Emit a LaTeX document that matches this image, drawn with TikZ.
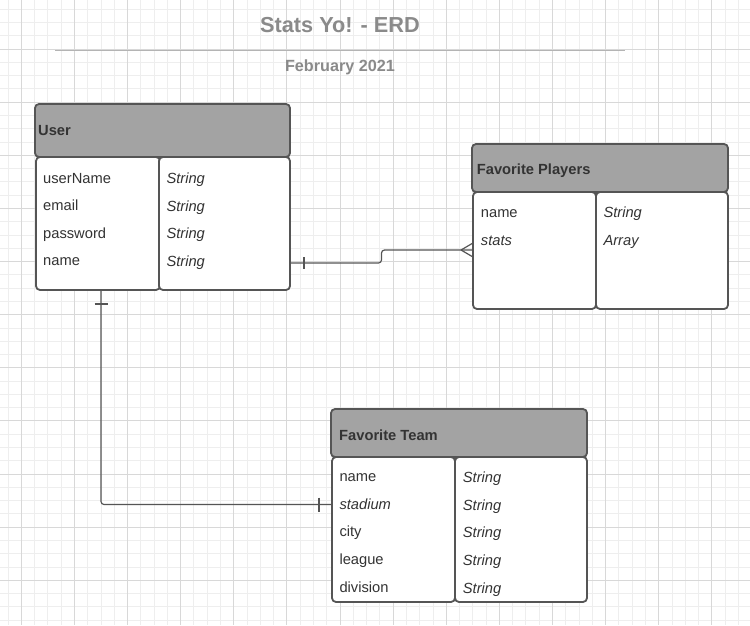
\documentclass[tikz,border=0pt]{standalone}
\usepackage{fontspec}
\setmainfont{Liberation Sans}
\usetikzlibrary{calc}
\definecolor{gridminor}{RGB}{238,238,238}
\definecolor{gridmajor}{RGB}{216,216,216}
\definecolor{headfill}{RGB}{163,163,163}
\definecolor{edge}{RGB}{85,85,85}
\definecolor{ink}{RGB}{51,51,51}
\definecolor{titlegray}{RGB}{138,138,138}
\definecolor{rulegray}{RGB}{180,180,180}

\begin{document}
\begin{tikzpicture}
[x = 1pt, y = -1pt,
 header/.style = {draw = edge, fill = headfill, line width = 1.8pt, rounded corners = 4pt, inner sep = 0pt, outer sep = 0pt},
 body/.style = {draw = edge, fill = white, line width = 1.8pt, rounded corners = 4pt, inner sep = 0pt, outer sep = 0pt},
 field/.style = {anchor = base west, inner sep = 0pt, text = ink, font = \fontsize{14.7}{17}\selectfont},
 ftype/.style = {field, font = \fontsize{14.7}{17}\selectfont\itshape},
 tname/.style = {field, font = \fontsize{14.7}{17}\selectfont\bfseries},
 heading/.style = {anchor = base, inner sep = 0pt, text = titlegray},
 rel/.style = {draw = edge, line width = 1.2pt}]
\useasboundingbox (0,0) rectangle (750,625);
\fill[white] (0,0) rectangle (750,625);
% grid paper
\foreach \i in {0,...,55} \draw[gridminor, line width = 0.7pt] ({7.92+13.28*\i},0) -- ({7.92+13.28*\i},625);
\foreach \j in {0,...,46} \draw[gridminor, line width = 0.7pt] (0,{9.16+13.28*\j}) -- (750,{9.16+13.28*\j});
\foreach \i in {0,...,13} \draw[gridmajor, line width = 0.8pt] ({21.2+53.12*\i},0) -- ({21.2+53.12*\i},625);
\foreach \j in {0,...,10} \draw[gridmajor, line width = 0.8pt] (0,{49+53.12*\j}) -- (750,{49+53.12*\j});
% title
\node (title) at (340,32)[heading, font = \fontsize{21.7}{26}\selectfont\bfseries] {Stats Yo! - ERD};
\node (date) at (340,71)[heading, font = \fontsize{16.2}{19}\selectfont\bfseries] {February 2021};
\coordinate (ruleL) at (55,50.5);
\coordinate (ruleR) at (625,50.5);
\draw [rulegray, line width = 1.6pt] (ruleL) -- (ruleR);
% User
\node (UserKeys) at (98,223.5)[body, minimum width = 124, minimum height = 133] {};
\node (UserTypes) at (224.5,223.5)[body, minimum width = 131, minimum height = 133] {};
\node (User) at (162.5,130.5)[header, minimum width = 255, minimum height = 53] {};
\node (UserTitle) at (38,135)[tname] {User};
\node (u1) at (43,183.3)[field] {userName};
\node (u2) at (43,210.8)[field] {email};
\node (u3) at (43,238.3)[field] {password};
\node (u4) at (43,265.8)[field] {name};
\node (ut1) at (166.3,183.8)[ftype] {String};
\node (ut2) at (166.3,211.3)[ftype] {String};
\node (ut3) at (166.3,238.8)[ftype] {String};
\node (ut4) at (166.3,266.3)[ftype] {String};
% Favorite Players
\node (PlayersKeys) at (534.5,250.5)[body, minimum width = 123, minimum height = 117] {};
\node (PlayersTypes) at (662,250.5)[body, minimum width = 132, minimum height = 117] {};
\node (Players) at (600,168)[header, minimum width = 256, minimum height = 48] {};
\node (PlayersTitle) at (476.7,174.3)[tname] {Favorite Players};
\node (p1) at (480.7,217.3)[field] {name};
\node (p2) at (480.7,245)[field, font = \fontsize{14.7}{17}\selectfont\itshape] {stats};
\node (pt1) at (603.3,217.7)[ftype] {String};
\node (pt2) at (603.3,245.5)[ftype] {Array};
% Favorite Team
\node (TeamKeys) at (393.5,529.5)[body, minimum width = 123, minimum height = 145] {};
\node (TeamTypes) at (521,529.5)[body, minimum width = 132, minimum height = 145] {};
\node (Team) at (459,433)[header, minimum width = 256, minimum height = 48] {};
\node (TeamTitle) at (339,440)[tname] {Favorite Team};
\node (t1) at (339.3,481)[field] {name};
\node (t2) at (339.3,509)[field, font = \fontsize{14.7}{17}\selectfont\itshape] {stadium};
\node (t3) at (339.3,536.5)[field] {city};
\node (t4) at (339.3,564)[field] {league};
\node (t5) at (339.3,592)[field] {division};
\node (tt1) at (462.7,482.5)[ftype] {String};
\node (tt2) at (462.7,510.3)[ftype] {String};
\node (tt3) at (462.7,537.8)[ftype] {String};
\node (tt4) at (462.7,565.5)[ftype] {String};
\node (tt5) at (462.7,593.3)[ftype] {String};
% relations
\coordinate (UP) at (UserTypes.east |- 0,263);
\coordinate (PU) at (PlayersKeys.west |- 0,250);
\coordinate (UT) at (101,290);
\coordinate (TU) at (TeamKeys.west |- 0,504.5);
\draw [rel, rounded corners = 3pt] (UP) -- (381.5,263) -- (381.5,250) -- (PU);
\draw [rel] ($(UP)+(14,-6)$) -- ($(UP)+(14,6)$);
\draw [rel] ($(PU)+(-12,0)$) -- ($(PU)+(0,-7)$);
\draw [rel] ($(PU)+(-12,0)$) -- ($(PU)+(0,7)$);
\draw [rel, rounded corners = 3pt] (UT) -- (UT |- TU) -- (TU);
\draw [rel] ($(UT)+(-6.5,14)$) -- ($(UT)+(6.5,14)$);
\draw [rel] ($(TU)+(-13,-7)$) -- ($(TU)+(-13,7)$);
\end{tikzpicture}
\end{document}
